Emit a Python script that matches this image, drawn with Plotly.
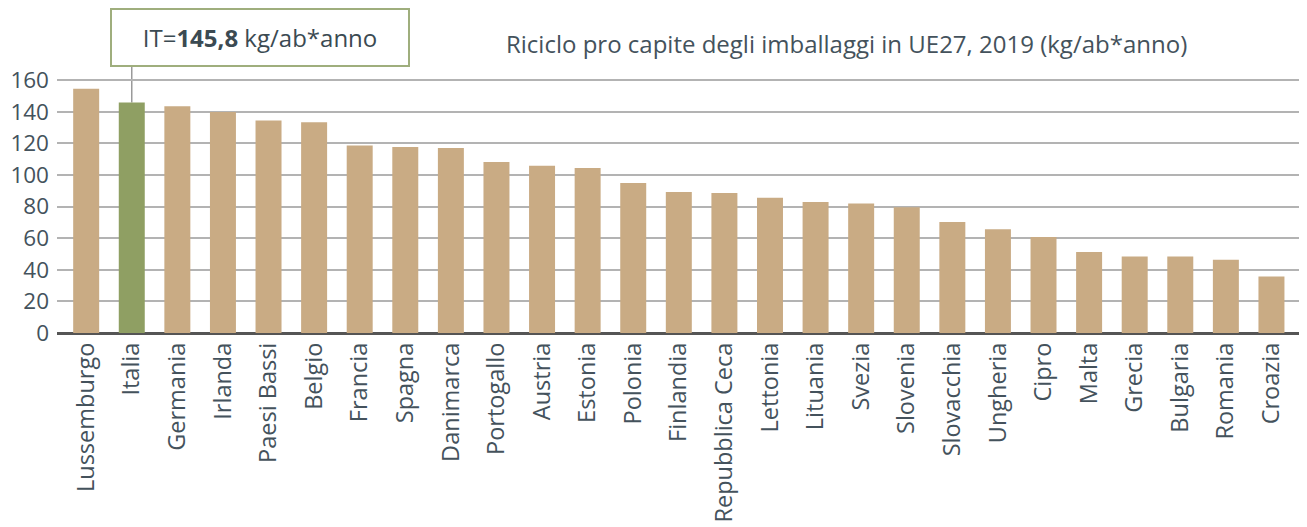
import plotly.graph_objects as go

countries = ["Lussemburgo", "Italia", "Germania", "Irlanda", "Paesi Bassi", "Belgio",
             "Francia", "Spagna", "Danimarca", "Portogallo", "Austria", "Estonia",
             "Polonia", "Finlandia", "Repubblica Ceca", "Lettonia", "Lituania", "Svezia",
             "Slovenia", "Slovacchia", "Ungheria", "Cipro", "Malta", "Grecia",
             "Bulgaria", "Romania", "Croazia"]
values = [154.5, 145.8, 143.5, 139.9, 134.4, 133.4, 118.6, 117.7, 117.1, 108.2, 105.9,
          104.4, 94.9, 89.2, 88.6, 85.6, 82.9, 82.0, 79.5, 70.2, 65.7, 60.7, 51.2, 48.4,
          48.4, 46.3, 35.7]
highlight = "Italia"
y_ticks = [0, 20, 40, 60, 80, 100, 120, 140, 160]
title_text = "Riciclo pro capite degli imballaggi in UE27, 2019 (kg/ab*anno)"
it_label = "IT=<b>145,8</b> kg/ab*anno"

TAN = "#c9ab84"
GREEN = "#8f9f63"
TEXT = "#44525c"
YMAX = 162

colors = [GREEN if c == highlight else TAN for c in countries]
hi_idx = countries.index(highlight)
hi_val = values[hi_idx]

fig = go.Figure(go.Bar(x=countries, y=values, marker=dict(color=colors, line=dict(width=0)),
                       width=0.57))

fig.update_layout(
    width=1307, height=527,
    margin=dict(l=49, r=13, t=69, b=202),
    paper_bgcolor="white", plot_bgcolor="white",
    font=dict(family="Open Sans", color=TEXT),
    showlegend=False,
    xaxis=dict(range=[-0.64, 26.67], tickangle=-90, tickfont=dict(size=23.5, color=TEXT),
               showgrid=False, ticks="", showline=False, ticklabelstandoff=4,
               automargin=False),
    yaxis=dict(range=[0, YMAX], tickvals=y_ticks, tickfont=dict(size=22.5, color=TEXT),
               showgrid=True, gridcolor="#b3b3b3", gridwidth=2,
               zeroline=True, zerolinecolor="#555555", zerolinewidth=3,
               ticks="", showline=False, ticklabelstandoff=7, automargin=False),
)

# vertical connector line from Italia bar to box
fig.add_shape(type="line", xref="x", yref="paper", x0=hi_idx, x1=hi_idx,
              y0=hi_val / YMAX, y1=1.04, line=dict(color="#9a9a9a", width=1.5), layer="below")

fig.add_annotation(xref="x", yref="paper", x=hi_idx, xshift=-22, y=1.27,
                   xanchor="left", yanchor="top", text=it_label, showarrow=False,
                   font=dict(size=24, color="#3b4a52"), width=296, height=55,
                   bordercolor="#9fae7d", borderwidth=2, borderpad=0, bgcolor="white",
                   align="center", valign="middle")

fig.add_annotation(xref="paper", yref="paper", x=0.6345, y=1.13, xanchor="center",
                   yanchor="middle", text=title_text, showarrow=False,
                   font=dict(size=24, color=TEXT))

fig.write_html("out.html")
